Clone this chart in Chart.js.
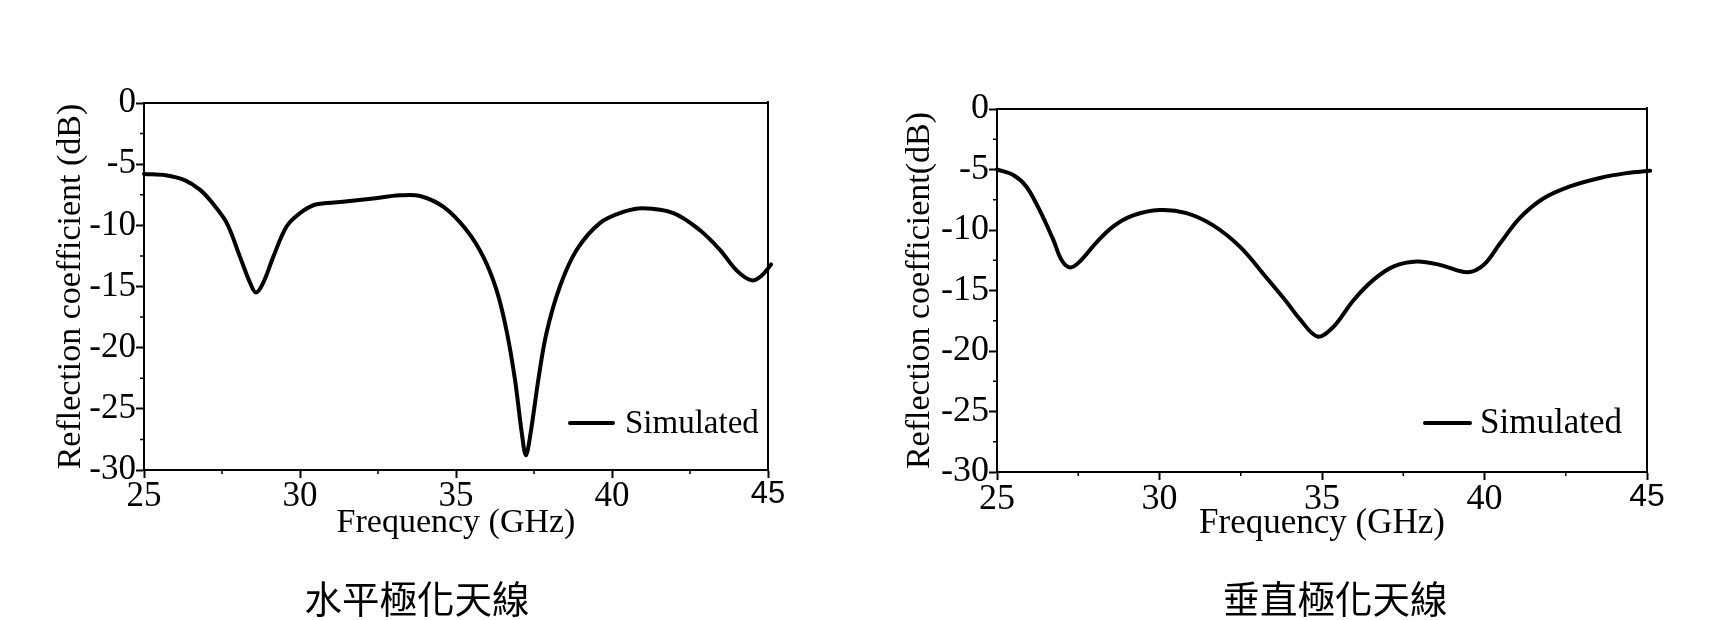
<!DOCTYPE html>
<html><head><meta charset="utf-8">
<script src="https://cdn.jsdelivr.net/npm/chart.js@4.4.1/dist/chart.umd.min.js"></script>
<style>
html,body{margin:0;padding:0;background:#fff;width:1720px;height:620px;overflow:hidden}
.wrap{position:absolute;top:0;width:860px;height:620px}
.cap{position:absolute;font-family:"Noto Sans CJK TC";font-size:37.5px;color:#000;transform:translate(-50%,-50%);white-space:nowrap;line-height:1}
</style></head><body>
<div class="wrap" style="left:0"><canvas id="c1" width="860" height="620"></canvas></div>
<div class="wrap" style="left:860px"><canvas id="c2" width="860" height="620"></canvas></div>
<div class="cap" style="left:417px;top:597px">水平極化天線</div>
<div class="cap" style="left:1335px;top:597px">垂直極化天線</div>
<script>
// ---- data ----
const freqH = [25.0, 25.7, 26.3, 26.8, 27.2, 27.65, 28.08, 28.4, 28.59, 28.82, 29.14, 29.57, 30.0, 30.5, 31.3, 32.35, 33.2, 33.85, 34.6, 35.34, 35.88, 36.3, 36.62, 36.89, 37.11, 37.24, 37.39, 37.64, 37.9, 38.33, 38.87, 39.62, 40.36, 41.0, 41.97, 42.82, 43.46, 44.0, 44.48, 44.8, 45.1];
const s11H  = [-5.8, -5.9, -6.3, -7.1, -8.2, -9.8, -12.6, -14.7, -15.5, -14.7, -12.6, -10.1, -9.0, -8.3, -8.1, -7.8, -7.55, -7.6, -8.5, -10.4, -12.6, -15.3, -18.6, -22.6, -27.0, -28.8, -27.0, -22.6, -18.8, -15.0, -12.0, -9.8, -8.9, -8.6, -9.0, -10.4, -12.0, -13.7, -14.5, -14.1, -13.2];
const freqV = [25.0, 25.5, 25.9, 26.3, 26.73, 26.99, 27.25, 27.55, 28.07, 28.58, 29.19, 30.0, 30.83, 31.64, 32.48, 33.28, 33.9, 34.3, 34.86, 35.35, 35.97, 36.59, 37.21, 37.93, 38.65, 39.47, 39.97, 40.48, 41.09, 41.81, 42.63, 43.55, 44.37, 45.1];
const s11V  = [-5.0, -5.45, -6.4, -8.3, -10.8, -12.5, -13.1, -12.6, -11.0, -9.7, -8.8, -8.35, -8.6, -9.6, -11.4, -13.9, -15.9, -17.3, -18.8, -18.0, -15.8, -14.1, -13.0, -12.6, -12.9, -13.5, -12.9, -11.1, -9.0, -7.4, -6.4, -5.7, -5.3, -5.1];
const xTicks = [25, 30, 35, 40, 45];
const xMinor = [27.5, 32.5, 37.5, 42.5];
const yTicks = [0, -5, -10, -15, -20, -25, -30];
const yMinor = [-2.5, -7.5, -12.5, -17.5, -22.5, -27.5];
const seriesName = 'Simulated';
const xTitle = 'Frequency (GHz)';
const yTitleH = 'Reflection coefficient (dB)';
const yTitleV = 'Reflection coefficient(dB)';

const SERIF = '"Liberation Serif", "Times New Roman", serif';

function makeChart(id, freq, s11, yTitle, L) {
  const framePlugin = {
    id: 'frame' + id,
    afterDraw(chart) {
      const ctx = chart.ctx, ca = chart.chartArea;
      const xs = chart.scales.x, ys = chart.scales.y;
      ctx.save();
      ctx.strokeStyle = '#000';
      ctx.lineWidth = 2;
      ctx.beginPath();
      ctx.moveTo(ca.left, ca.top); ctx.lineTo(ca.right, ca.top);
      ctx.moveTo(ca.right, ca.top - 2); ctx.lineTo(ca.right, ca.bottom);
      ctx.stroke();
      ctx.lineWidth = 1.5;
      ctx.beginPath();
      xMinor.forEach(v => { const px = xs.getPixelForValue(v); ctx.moveTo(px, ca.bottom); ctx.lineTo(px, ca.bottom + 4); });
      yMinor.forEach(v => { const py = ys.getPixelForValue(v); ctx.moveTo(ca.left, py); ctx.lineTo(ca.left - 4, py); });
      ctx.stroke();
      // legend
      const ly = ca.bottom - L.legDy;
      ctx.lineWidth = 4; ctx.lineCap = 'round';
      ctx.beginPath();
      ctx.moveTo(ca.right - L.legX1, ly); ctx.lineTo(ca.right - L.legX2, ly);
      ctx.stroke();
      ctx.fillStyle = '#000';
      ctx.font = L.legFont + 'px ' + SERIF;
      ctx.textBaseline = 'middle'; ctx.textAlign = 'left';
      ctx.fillText(seriesName, ca.right - L.legTx, ly + 1);
      ctx.restore();
    }
  };
  return new Chart(document.getElementById(id), {
    type: 'line',
    data: {
      datasets: [{
        label: seriesName,
        data: freq.map((f, i) => ({x: f, y: s11[i]})),
        borderColor: '#000', borderWidth: 4, pointRadius: 0,
        tension: 0.35, fill: false,
        borderCapStyle: 'round', borderJoinStyle: 'round',
        clip: {left: 4, top: 0, right: 8, bottom: 0}
      }]
    },
    options: {
      responsive: false, animation: false,
      layout: {padding: {left: 0, top: L.top, right: L.right, bottom: L.bottom}},
      plugins: {legend: {display: false}, tooltip: {enabled: false}},
      scales: {
        x: {
          type: 'linear', min: 25, max: 45,
          afterBuildTicks: s => { s.ticks = xTicks.map(v => ({value: v})); },
          afterFit: s => { s.height = 80; },
          border: {display: true, color: '#000', width: 2},
          grid: {display: true, drawOnChartArea: false, drawTicks: true, tickLength: 8, tickWidth: 2, tickColor: '#000'},
          ticks: {
            color: '#000', padding: L.xPad, maxRotation: 0, autoSkip: false,
            font: c => (c.index === xTicks.length - 1
              ? {family: '"Liberation Sans", sans-serif', size: L.tick - 4}
              : {family: SERIF, size: L.tick}),
            callback: v => String(v)
          },
          title: {display: true, text: xTitle, color: '#000', font: {family: SERIF, size: L.title}, padding: {top: 0, bottom: L.xtPad}}
        },
        y: {
          type: 'linear', min: -30, max: 0,
          afterBuildTicks: s => { s.ticks = yTicks.map(v => ({value: v})); },
          afterFit: s => { s.width = L.yW; },
          border: {display: true, color: '#000', width: 2},
          grid: {display: true, drawOnChartArea: false, drawTicks: true, tickLength: 8, tickWidth: 2, tickColor: '#000'},
          ticks: {color: '#000', padding: 0, font: {family: SERIF, size: L.tick}, callback: v => String(v)},
          title: {display: true, text: yTitle, color: '#000', font: {family: SERIF, size: L.ytitle}, padding: {top: L.ytPad, bottom: 0}}
        }
      }
    },
    plugins: [framePlugin]
  });
}

makeChart('c1', freqH, s11H, yTitleH, {top: 103, right: 92, bottom: 70, yW: 144, tick: 35, title: 34, ytitle: 34, xPad: -2, xtPad: 7, ytPad: 51, legDy: 47, legX1: 198, legX2: 155, legTx: 143, legFont: 33});
makeChart('c2', freqV, s11V, yTitleV, {top: 109, right: 73, bottom: 68, yW: 137, tick: 36, title: 35, ytitle: 34, xPad: -2, xtPad: 7, ytPad: 40, legDy: 49, legX1: 222, legX2: 177, legTx: 167, legFont: 35});
</script>
</body></html>
